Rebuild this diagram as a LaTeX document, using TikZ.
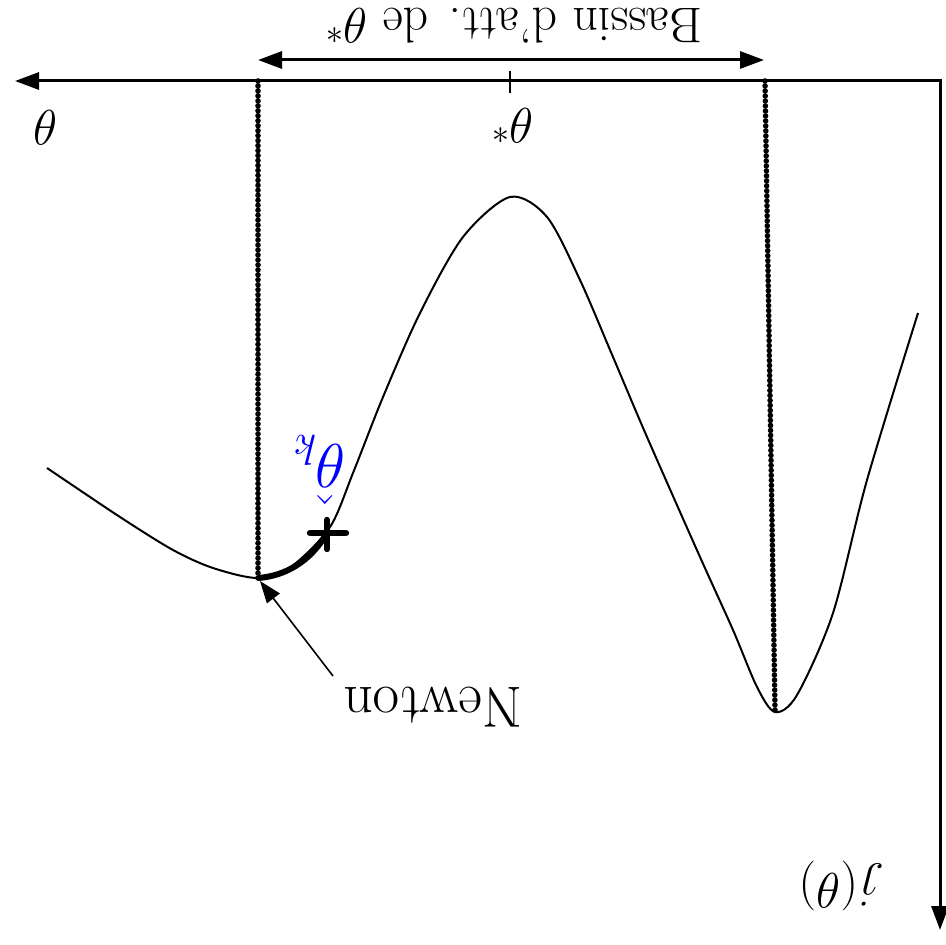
\documentclass[tikz,border=0pt]{standalone}
\usetikzlibrary{arrows.meta,calc}
\begin{document}
\begin{tikzpicture}[x=0.5pt,y=-0.5pt,
  axis/.style={line width=1.5pt,{Triangle[length=12pt,width=8.5pt]}-{Triangle[length=12pt,width=8.5pt]}},
  dimarrow/.style={line width=1.5pt,{Triangle[length=12pt,width=8.5pt]}-{Triangle[length=12pt,width=8.5pt]}},
  ptr/.style={line width=0.8pt,-{Triangle[length=11pt,width=8pt]}},
  curve/.style={line width=1pt},
  dotmark/.style={fill=black},
  thick arc/.style={line width=3pt},
  lbl/.style={rotate=180,inner sep=0pt,font=\fontsize{25}{30}\selectfont}]
\useasboundingbox (0,0) rectangle (945,945);
% axes
\coordinate (thetaEnd) at (15,81);
\coordinate (corner) at (940,81);
\coordinate (jEnd) at (940,930);
\draw[axis] (thetaEnd) -- (corner) -- (jEnd);
% tick at theta*
\coordinate (tickA) at (510,71);
\coordinate (tickB) at (510,93);
\draw[line width=0.8pt] (tickA) -- (tickB);
% basin arrow
\coordinate (basL) at (258,60);
\coordinate (basR) at (764,60);
\draw[dimarrow] (basL) -- (basR);
% dotted verticals
\coordinate (dLtop) at (258,81);
\coordinate (dLbot) at (258,578);
\coordinate (dRtop) at (765,81);
\coordinate (dRbot) at (775,710);
\foreach \t in {0,...,100} \fill[dotmark] ($(dLtop)!\t/100!(dLbot)$) circle (1.4pt);
\foreach \t in {0,...,126} \fill[dotmark] ($(dRtop)!\t/126!(dRbot)$) circle (1.4pt);
% curve
\draw[curve] plot[smooth,tension=0.5] coordinates {(47,468) (120,517) (173,550) (213,568) (258,578) (292,566) (330,527) (353,473) (383,397) (420,313) (463,237) (510,197) (547,217) (580,280) (613,357) (647,437) (700,557) (733,630) (757,687) (775,712) (797,695) (833,613) (867,480) (918,313)};
% thick newton arc
\coordinate (arcS) at (258,578);
\coordinate (arcE) at (327,533);
\draw[thick arc] (arcS) .. controls (285,576) and (310,562) .. (arcE);
% cross
\coordinate (crL) at (310,533);
\coordinate (crR) at (346,533);
\coordinate (crT) at (327,520);
\coordinate (crB) at (327,549);
\draw[line width=3.2pt,line cap=round] (crL) -- (crR);
\draw[line width=3.2pt,line cap=round] (crT) -- (crB);
% labels
\node[lbl] (basin) at (514,26) {Bassin d'att. de $\theta^*$};
\node[lbl] (thstar) at (512,126) {$\theta^*$};
\node[lbl] (theta) at (45,128) {$\theta$};
\node[lbl] (jlab) at (840,886) {$j(\theta)$};
\node[lbl,font=\fontsize{29}{34}\selectfont] (newton) at (433,707) {Newton};
\node[lbl,text=blue,scale=1.25] (thk) at (319,470) {$\hat\theta_k$};
% newton pointer
\coordinate (ptrStart) at (333,676);
\coordinate (ptrTip) at (260,581);
\draw[ptr] (ptrStart) -- (ptrTip);
\end{tikzpicture}
\end{document}
